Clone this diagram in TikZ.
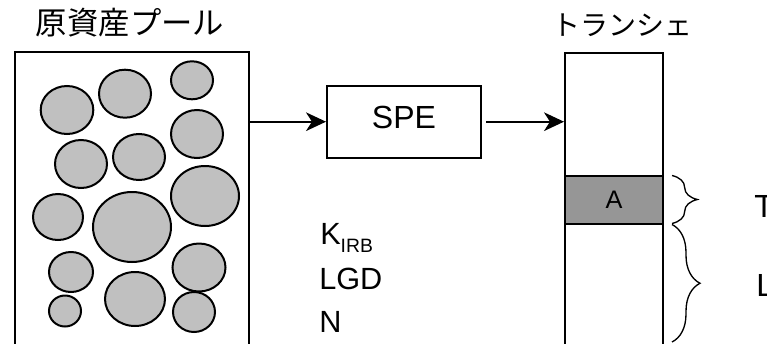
\documentclass[tikz,border=0pt]{standalone}
\usepackage{fontspec}
\setmainfont{Liberation Sans}
\newfontfamily\jpfont{Noto Sans CJK JP}
\usetikzlibrary{arrows.meta,decorations.pathreplacing}
\definecolor{cellgray}{HTML}{C0C0C0}
\definecolor{bandgray}{HTML}{969696}
\tikzset{
  boxline/.style={draw=black,line width=1.5pt},
  cell/.style={draw=black,fill=cellgray,line width=1.5pt},
  flow/.style={line width=1.5pt,-{Stealth[length=15pt,width=14pt,inset=4.5pt]}},
  bigtxt/.style={font=\fontsize{23}{23}\selectfont,inner sep=0pt},
  brc/.style={draw=black,line width=1pt,decorate},
}
\begin{document}
\begin{tikzpicture}[x=0.75pt,y=-0.75pt]
\useasboundingbox (0,0) rectangle (767,343);
\clip (0,0) rectangle (767,343);
% titles
\node[inner sep=0pt,font=\jpfont\fontsize{23.5}{23.5}\selectfont] (pooltitle) at (130,23) {原資産プール};
\node[inner sep=0pt,font=\jpfont\fontsize{21}{21}\selectfont] (trtitle) at (622,25) {トランシェ};
% pool box
\node[boxline,minimum width=234*0.75pt,minimum height=308*0.75pt,inner sep=0pt] (pool) at (132,206) {};
% circles
\draw[cell] (67,110) ellipse [x radius=26.3,y radius=24];
\draw[cell] (125,93.7) ellipse [x radius=26,y radius=24];
\draw[cell] (192,80.3) ellipse [x radius=21,y radius=19];
\draw[cell] (197,134) ellipse [x radius=26,y radius=24];
\draw[cell] (81,164) ellipse [x radius=26,y radius=24];
\draw[cell] (139,157) ellipse [x radius=26,y radius=23];
\draw[cell] (205,196) ellipse [x radius=34,y radius=30];
\draw[cell] (58,217) ellipse [x radius=25,y radius=23];
\draw[cell] (132,227) ellipse [x radius=39,y radius=35];
\draw[cell] (71,272) ellipse [x radius=22,y radius=20];
\draw[cell] (199,267.5) ellipse [x radius=26.5,y radius=24];
\draw[cell] (135,299) ellipse [x radius=30,y radius=27];
\draw[cell] (65,311) ellipse [x radius=16,y radius=15.5];
\draw[cell] (194,312) ellipse [x radius=21,y radius=20];
% SPE
\node[boxline,minimum width=154*0.75pt,minimum height=72*0.75pt,inner sep=0pt,text depth=6pt,font=\fontsize{24}{24}\selectfont] (spe) at (404,121.7) {SPE};
% tranche column
\node[boxline,minimum width=98*0.75pt,minimum height=307*0.75pt,inner sep=0pt] (tranche) at (614,206.5) {};
\node[boxline,fill=bandgray,minimum width=98*0.75pt,minimum height=48.3*0.75pt,inner sep=0pt,font=\fontsize{19}{19}\selectfont] (bandA) at (614,199.8) {A};
% arrows
\draw[flow] (spe.west -| pool.east) -- (spe.west);
\draw[flow,shorten <=3pt] (spe.east) -- (spe.east -| tranche.west);
% parameters
\node[bigtxt,anchor=base west] (kirb) at (320,244) {K\raisebox{-6pt}{\fontsize{14.5}{14.5}\selectfont IRB}};
\node[bigtxt,anchor=base west] (lgd) at (319,289) {LGD};
\node[bigtxt,anchor=base west] (nn) at (319,332) {N};
% braces
\coordinate (b1t) at (672,175.5);
\coordinate (b1b) at (672,223.5);
\coordinate (b2t) at (672,224.5);
\coordinate (b2b) at (672,342);
\draw[brc,decoration={brace,amplitude=19pt}] (b1t) -- (b1b);
\draw[brc,decoration={brace,amplitude=21pt}] (b2t) -- (b2b);
\node[bigtxt,font=\fontsize{24}{24}\selectfont,anchor=base west] (tlab) at (754,217) {T};
\node[bigtxt,font=\fontsize{24}{24}\selectfont,anchor=base west] (llab) at (756,296) {L};
\end{tikzpicture}
\end{document}
